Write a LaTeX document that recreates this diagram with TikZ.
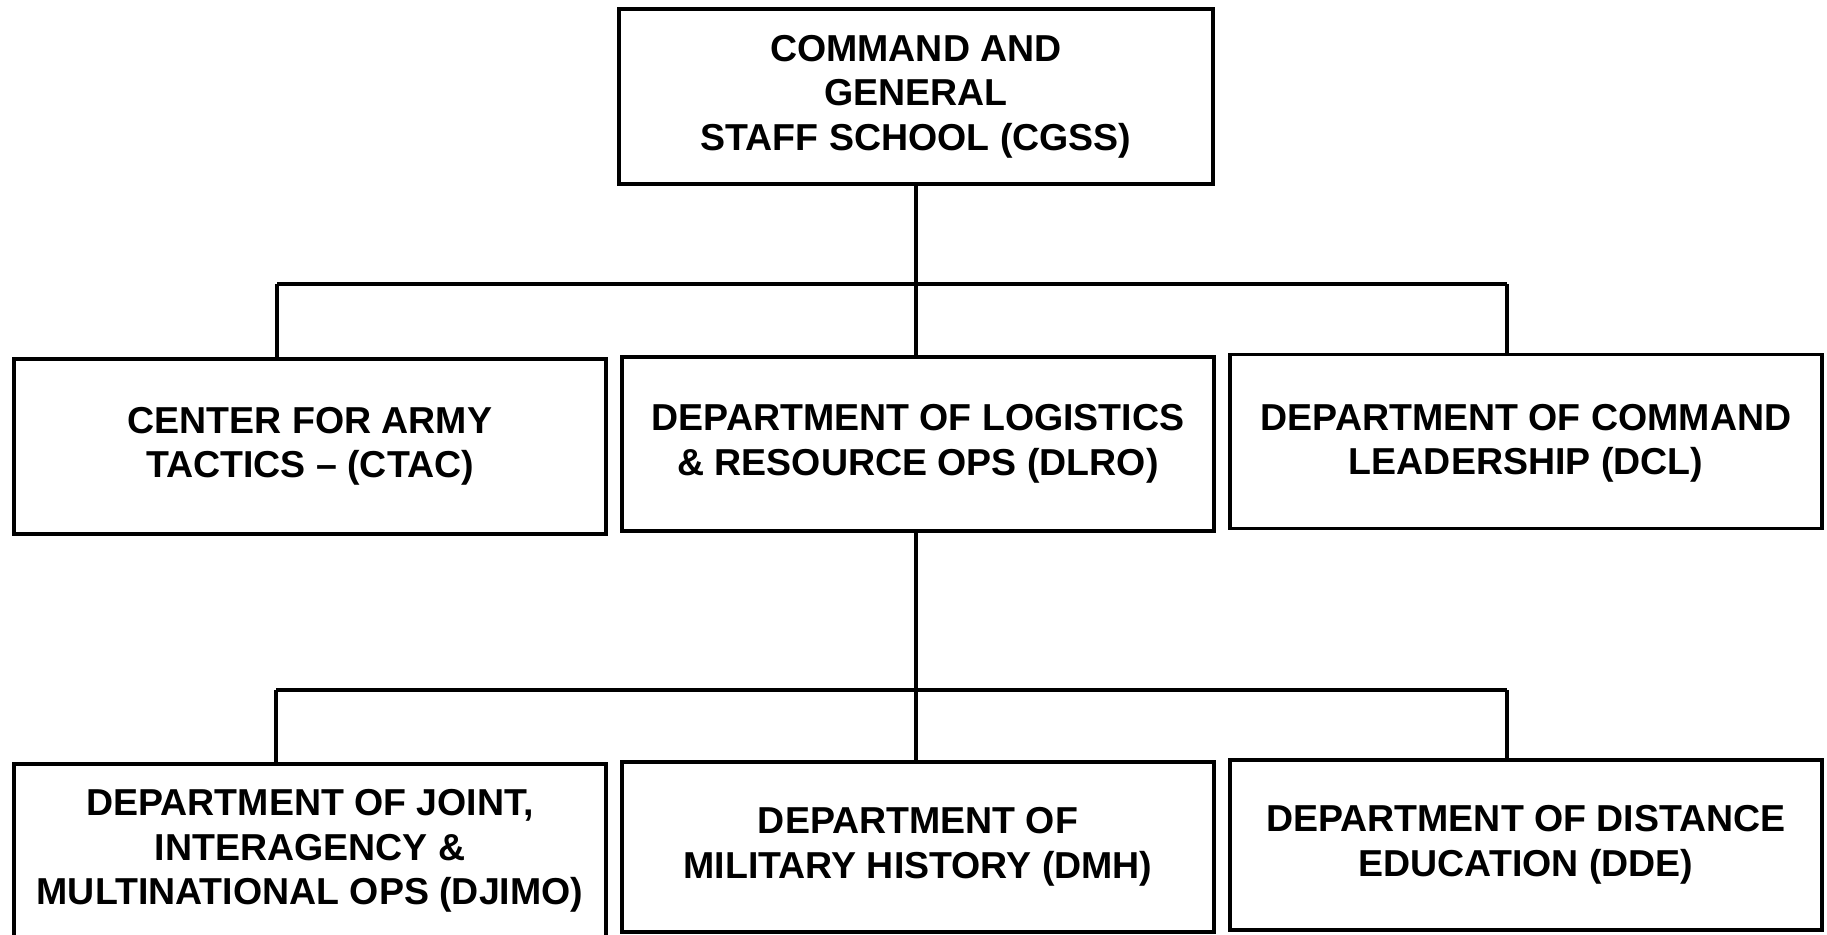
\documentclass[tikz,border=0pt]{standalone}
\usepackage{fontspec}
\setmainfont{Liberation Sans}
\begin{document}
\begin{tikzpicture}[x=1pt,y=-1pt,
  box/.style={draw, line width=3.5pt, inner sep=0pt, align=center,
    minimum width=592pt, minimum height=174pt,
    font=\fontsize{37.5}{44.5}\selectfont\bfseries},
  link/.style={line width=3.5pt}]
\useasboundingbox (0,0) rectangle (1827,934);
\node[box, minimum width=594pt, minimum height=175pt] (cgss) at (916,96.5) {COMMAND AND\\GENERAL\\STAFF SCHOOL (CGSS)};
\node[box, minimum height=175pt] (ctac) at (310,446.5) {CENTER FOR ARMY\\TACTICS -- (CTAC)};
\node[box] (dlro) at (918,444) {DEPARTMENT OF LOGISTICS\\\& RESOURCE OPS (DLRO)};
\node[box, text depth=4pt] (dcl) at (1526,441.5) {DEPARTMENT OF COMMAND\\LEADERSHIP (DCL)};
\node[box] (djimo) at (310,851) {DEPARTMENT OF JOINT,\\INTERAGENCY \&\\MULTINATIONAL OPS (DJIMO)};
\node[box, minimum height=170pt] (dmh) at (918,847) {DEPARTMENT OF\\MILITARY HISTORY (DMH)};
\node[box, minimum height=170pt] (dde) at (1526,845) {DEPARTMENT OF DISTANCE\\EDUCATION (DDE)};
\coordinate (j1) at (916,284);
\coordinate (j1l) at (277,284);
\coordinate (j1r) at (1507,284);
\coordinate (j2) at (916,690);
\coordinate (j2l) at (276,690);
\coordinate (j2r) at (1507,690);
\draw[link] (cgss.south) -- (j1);
\draw[link] (j1l) -- (j1r);
\draw[link] (j1l) -- (j1l |- ctac.north);
\draw[link] (j1) -- (j1 |- dlro.north);
\draw[link] (j1r) -- (j1r |- dcl.north);
\draw[link] (dlro.south -| j2) -- (j2);
\draw[link] (j2l) -- (j2r);
\draw[link] (j2l) -- (j2l |- djimo.north);
\draw[link] (j2) -- (j2 |- dmh.north);
\draw[link] (j2r) -- (j2r |- dde.north);
\end{tikzpicture}
\end{document}
